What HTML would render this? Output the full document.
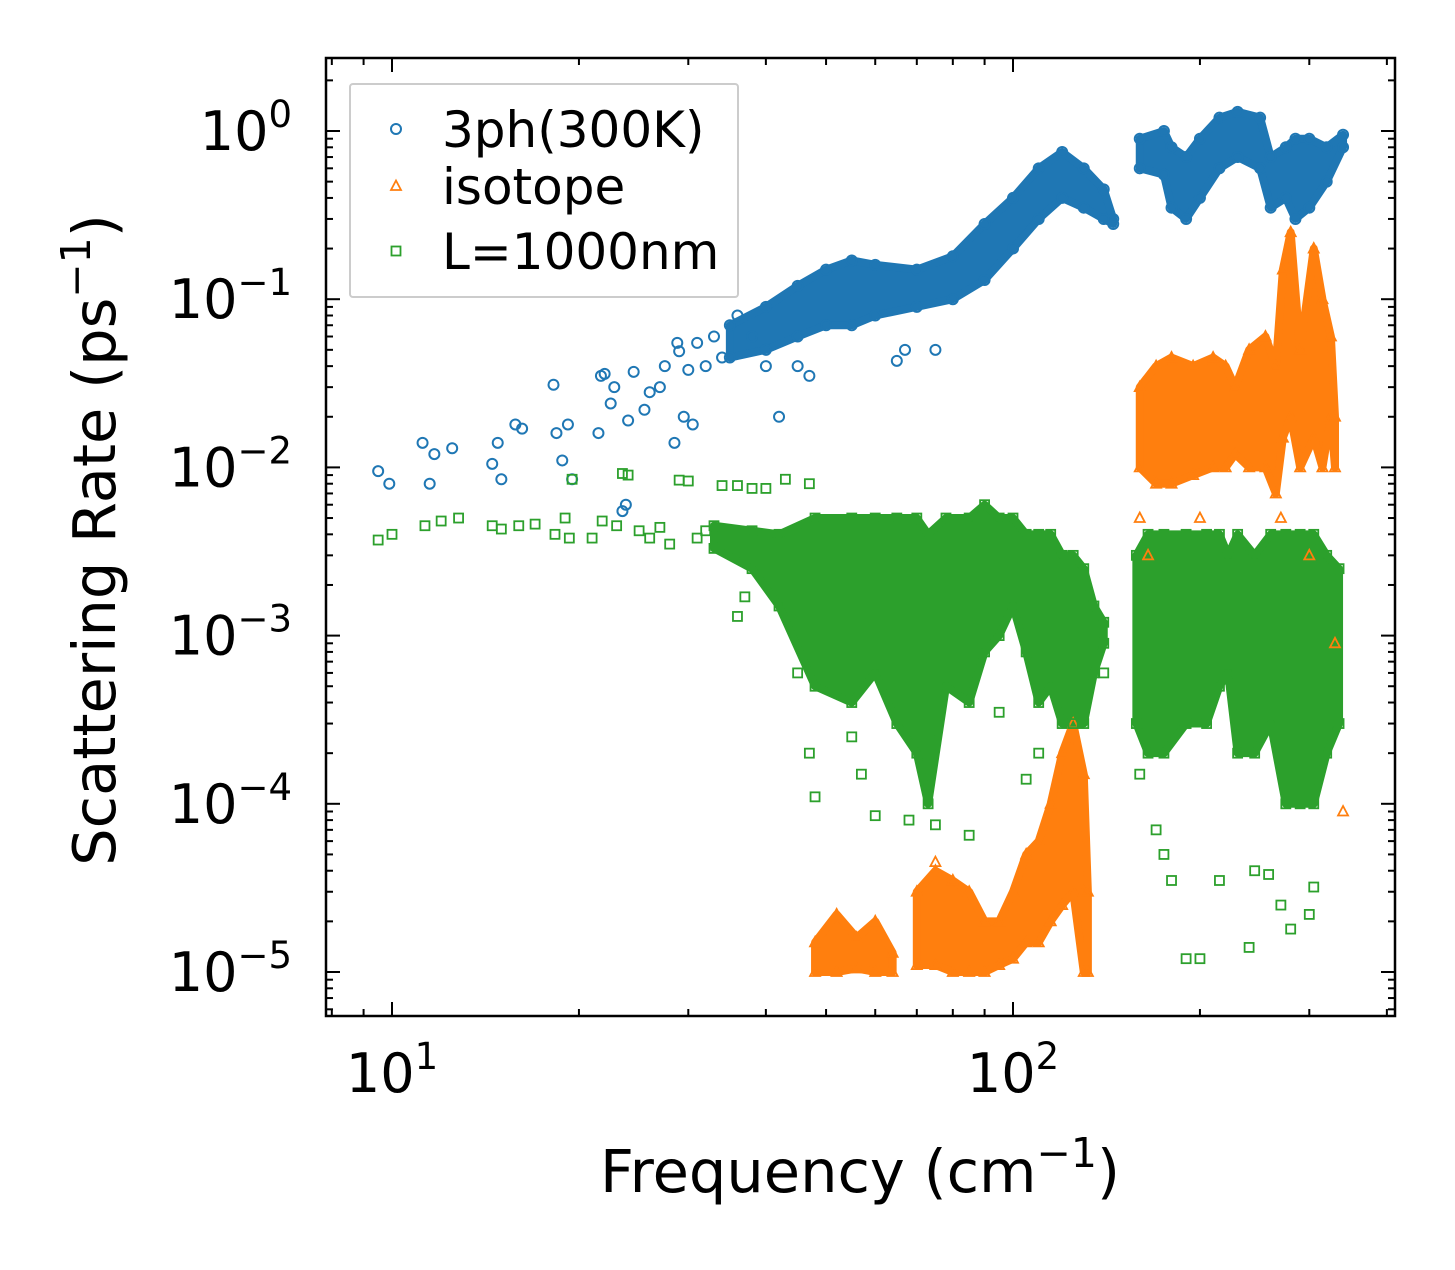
<!DOCTYPE html>
<html><head><meta charset="utf-8">
<style>
body{margin:0;background:#fff;}
svg text{font-family:"DejaVu Sans","Liberation Sans",sans-serif;fill:#000;}
</style></head>
<body>
<svg id="chart" width="1455" height="1265" viewBox="0 0 1455 1265" xmlns="http://www.w3.org/2000/svg">
<rect width="1455" height="1265" fill="#fff"/>
<g id="bands"></g>
<g id="marks"></g>
<g id="axes"></g>
</svg>
<script>
// ---- data ----
const xTickValues=[10,100];
const yTickExps=[0,-1,-2,-3,-4,-5];
// 3ph(300K)
const blueFreq=[9.5,9.9,11.2,11.5,11.7,12.5,14.5,14.8,15,15.8,16.2,18.2,18.4,18.8,19.2,19.5,21.5,21.7,22,22.5,22.8,23.5,23.8,24,24.5,25.5,26,27,27.5,28.5,28.8,29,29.5,30,30.5,31,32,33,34,36,38,40,42,45,47,65,67,75];
const blueRate=[.0095,.008,.014,.008,.012,.013,.0105,.014,.0085,.018,.017,.031,.016,.011,.018,.0085,.016,.035,.036,.024,.03,.0055,.006,.019,.037,.022,.028,.03,.04,.014,.055,.049,.02,.038,.018,.055,.04,.06,.045,.08,.06,.04,.02,.04,.035,.043,.05,.05];
const blueBandFreq=[[35,40,45,50,55,60,70,80,90,100,110,120,130,140,145],[160,175,180,190,200,215,230,250,260,275,285,300,320,340]];
const blueBandLo=[[.045,.05,.06,.07,.07,.08,.09,.1,.13,.2,.3,.4,.35,.3,.28],[.6,.55,.35,.3,.4,.6,.7,.6,.35,.4,.3,.35,.5,.8]];
const blueBandHi=[[.07,.09,.12,.15,.17,.16,.15,.18,.28,.4,.6,.75,.6,.45,.3],[.9,1.0,.8,.7,.9,1.2,1.3,1.2,.7,.8,.9,.9,.8,.95]];
// isotope
const orangeFreq=[160,165,200,270,300,330,340,75,130];
const orangeRate=[.005,.003,.005,.005,.003,9e-4,9e-5,4.5e-5,3e-5];
const orangeBandFreq=[[48,52,56,60,64],[70,75,80,85,90,95,100,105,110,115,120,125,130,132],[160,170,180,195,210,220,228,240,255,265,272,280,290,305,315,325,330]];
const orangeBandLo=[[1e-5,1e-5,1.05e-5,1e-5,1e-5],[1.1e-5,1.1e-5,1e-5,1e-5,1e-5,1.1e-5,1.2e-5,1.5e-5,1.5e-5,2e-5,2.5e-5,3e-5,1e-5,1e-5],[.01,.008,.008,.009,.01,.01,.012,.01,.01,.007,.015,.02,.01,.015,.01,.02,.01]];
const orangeBandHi=[[1.5e-5,2.2e-5,1.6e-5,2e-5,1.3e-5],[3e-5,4e-5,3.5e-5,3e-5,2e-5,2e-5,3e-5,5e-5,6e-5,1e-4,2e-4,3e-4,1.5e-4,3e-5],[.03,.04,.045,.04,.045,.04,.03,.05,.06,.04,.15,.25,.05,.2,.1,.06,.02]];
// L=1000nm
const greenFreq=[9.5,10,11.3,12,12.8,14.5,15,16,17,18.3,19,19.3,19.5,21,21.8,23,23.5,24,25,26,27,28,29,30,31,32,34,36,38,40,43,47,36,37,45,47,48,55,57,60,68,75,85,95,105,110,140,170,175,180,190,200,215,240,245,258,270,280,300,305,320,160];
const greenRate=[.0037,.004,.0045,.0048,.005,.0045,.0043,.0045,.0046,.004,.005,.0038,.0085,.0038,.0048,.0045,.0092,.009,.0042,.0038,.0044,.0035,.0084,.0083,.0038,.0042,.0078,.0078,.0075,.0075,.0085,.008,.0013,.0017,.0006,.0002,.00011,.00025,.00015,8.5e-5,8e-5,7.5e-5,6.5e-5,.00035,.00014,.0002,.0006,7e-5,5e-5,3.5e-5,1.2e-5,1.2e-5,3.5e-5,1.4e-5,4e-5,3.8e-5,2.5e-5,1.8e-5,2.2e-5,3.2e-5,.00028,.00015];
const greenBandFreq=[[33,38,42,48,55,60,65,70,73,78,85,90,95,100,105,110,115,120,125,130,135,140],[158,165,175,190,205,215,222,230,245,260,275,290,305,320,335]];
const greenBandLo=[[.0033,.0025,.0015,.0005,.0004,.0006,.0003,.0002,.0001,.0005,.0004,.0008,.001,.0015,.0008,.0004,.0005,.0003,.0003,.0003,.0006,.0009],[.0003,.0002,.0002,.0003,.0003,.0005,.0006,.0002,.0002,.0003,.0001,.0001,.0001,.0002,.0003]];
const greenBandHi=[[.0045,.0042,.004,.005,.005,.005,.005,.005,.004,.005,.005,.006,.005,.005,.004,.004,.004,.003,.003,.0025,.0015,.0012],[.003,.004,.004,.004,.004,.004,.003,.004,.003,.004,.004,.004,.004,.003,.0025]];

// ---- scales ----
const L=326,R=1395,T=58,B=1016;
const xs=v=>392+(Math.log10(v)-1)*621;
const ys=v=>131-Math.log10(v)*168.2;
const NS="http://www.w3.org/2000/svg";
function mk(tag,attrs,parent){const e=document.createElementNS(NS,tag);for(const k in attrs)e.setAttribute(k,attrs[k]);parent.appendChild(e);return e;}
const bands=document.getElementById('bands'),marks=document.getElementById('marks'),axes=document.getElementById('axes');
const C={blue:'#1f77b4',orange:'#ff7f0e',green:'#2ca02c'};

function marker(kind,x,y,col,name){
  let e;
  if(kind==='o'){e=mk('circle',{cx:x,cy:y,r:5,fill:'none',stroke:col,'stroke-width':2},marks);}
  else if(kind==='^'){e=mk('polygon',{points:`${x},${y-5.5} ${x-5},${y+4} ${x+5},${y+4}`,fill:'none',stroke:col,'stroke-width':1.8},marks);}
  else {e=mk('rect',{x:x-4.5,y:y-4.5,width:9,height:9,fill:'none',stroke:col,'stroke-width':1.8},marks);}
  
  
}
function drawBands(fr,lo,hi,col,kind,name){
  fr.forEach((f,i)=>{
    let pts=f.map((v,j)=>xs(v)+','+ys(hi[i][j]));
    pts=pts.concat(f.map((v,j)=>xs(v)+','+ys(lo[i][j])).reverse());
    const p=mk('polygon',{points:pts.join(' '),fill:col,stroke:col,'stroke-width':8,'stroke-linejoin':'round'},bands);
    
    
    f.forEach((v,j)=>{marker(kind,xs(v),ys(hi[i][j]),col,name+'-point');marker(kind,xs(v),ys(lo[i][j]),col,name+'-point');});
  });
}
function drawPoints(fr,rt,col,kind,name){fr.forEach((f,i)=>marker(kind,xs(f),ys(rt[i]),col,name+'-point'));}
drawBands(blueBandFreq,blueBandLo,blueBandHi,C.blue,'o','3ph');
drawPoints(blueFreq,blueRate,C.blue,'o','3ph');
drawBands(orangeBandFreq,orangeBandLo,orangeBandHi,C.orange,'^','isotope');
drawPoints(orangeFreq,orangeRate,C.orange,'^','isotope');
drawBands(greenBandFreq,greenBandLo,greenBandHi,C.green,'s','boundary');
drawPoints(greenFreq,greenRate,C.green,'s','boundary');

// ---- axes ----
const frame=mk('rect',{x:L,y:T,width:R-L,height:B-T,fill:'none',stroke:'#000','stroke-width':2.5},axes);


function tk(x1,y1,x2,y2){mk('line',{x1,y1,x2,y2,stroke:'#000','stroke-width':2},axes);}
for(let d=0;d<=2;d++){for(let m=1;m<10;m++){const v=m*Math.pow(10,d);const x=xs(v);if(x<L||x>R)continue;const len=m===1?14:7;tk(x,B,x,B-len);tk(x,T,x,T+len);}}
for(let d=-6;d<=0;d++){for(let m=1;m<10;m++){const v=m*Math.pow(10,d);const y=ys(v);if(y<T||y>B)continue;const len=m===1?14:7;tk(L,y,L+len,y);tk(R,y,R-len,y);}}
xTickValues.forEach(v=>{
  const t=mk('text',{x:xs(v),y:1092,'font-size':54,'text-anchor':'middle'},axes);
  t.innerHTML='10<tspan dy="-23" font-size="37">'+Math.log10(v)+'</tspan>';
  
  
});
yTickExps.forEach(e=>{
  const t=mk('text',{x:292,y:ys(Math.pow(10,e))+19,'font-size':54,'text-anchor':'end'},axes);
  t.innerHTML='10<tspan dy="-23" font-size="37">'+(e<0?'\u2212'+(-e):e)+'</tspan>';
  
  
});
const xl=mk('text',{x:860,y:1192,'font-size':59,'text-anchor':'middle'},axes);
xl.innerHTML='Frequency (cm<tspan dy="-25" font-size="41">\u22121</tspan><tspan dy="25">)</tspan>';


const yl=mk('text',{x:0,y:0,'font-size':59,'text-anchor':'middle',transform:'translate(115,540) rotate(-90)'},axes);
yl.innerHTML='Scattering Rate (ps<tspan dy="-25" font-size="41">\u22121</tspan><tspan dy="25">)</tspan>';



// legend
const lg=mk('g',{},axes);


mk('rect',{x:350,y:84,width:388,height:213,fill:'#fff','fill-opacity':0.8,stroke:'#ccc','stroke-width':2,rx:3},lg);
const legItems=[['3ph(300K)','o',C.blue,133],['isotope','^',C.orange,190],['L=1000nm','s',C.green,255]];
legItems.forEach(it=>{
  const g=mk('g',{},lg);
  
  
  const x=396,y=it[3]-4;
  if(it[1]==='o')mk('circle',{cx:x,cy:y,r:5,fill:'none',stroke:it[2],'stroke-width':2},g);
  else if(it[1]==='^')mk('polygon',{points:`${x},${y-5.5} ${x-5},${y+4} ${x+5},${y+4}`,fill:'none',stroke:it[2],'stroke-width':1.8},g);
  else mk('rect',{x:x-4.5,y:y-4.5,width:9,height:9,fill:'none',stroke:it[2],'stroke-width':1.8},g);
  const t=mk('text',{x:442,y:it[3]+14,'font-size':50},g);
  t.textContent=it[0];
});
</script>
</body></html>
